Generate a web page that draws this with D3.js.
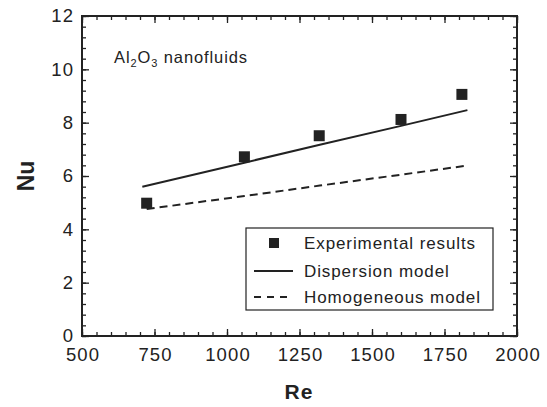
<!DOCTYPE html>
<html>
<head>
<meta charset="utf-8">
<script src="https://cdn.jsdelivr.net/npm/d3@7"></script>
<style>
  body { margin: 0; background: #fff; }
  text { font-family: "Liberation Sans", Arial, sans-serif; fill: #222; }
</style>
</head>
<body>
<svg width="547" height="407"></svg>
<script>
// data
let expRe = [723, 1060, 1318, 1600, 1810];
let expNu = [4.98, 6.72, 7.51, 8.12, 9.06];

let dispRe = [708, 1060, 1320, 1600, 1829];
let dispNu = [5.60, 6.50, 7.17, 7.88, 8.47];

let homoRe = [723, 1060, 1320, 1600, 1829];
let homoNu = [4.76, 5.25, 5.64, 6.05, 6.39];

let xTicks = [500, 750, 1000, 1250, 1500, 1750, 2000];
let yTicks = [0, 2, 4, 6, 8, 10, 12];

let svg = d3.select('svg');
let margin = {top: 16, right: 30, bottom: 71, left: 82},
width = +svg.attr('width') - margin.left - margin.right,
height = +svg.attr('height') - margin.top - margin.bottom;

let g = svg.append('g')
    .attr('transform', `translate(${margin.left}, ${margin.top})`);

let xScale = d3.scaleLinear().domain([500, 2000]).range([0, width]);
let yScale = d3.scaleLinear().domain([0, 12]).range([height, 0]);

let ink = '#222';

// minor / major ticks, all pointing inward
let xMinor = d3.range(500, 2001, 50);
let yMinor = d3.range(0, 12.01, 0.4);

function tickAxis(axis, scale, ticks, len, trans) {
  let a = g.append('g')
    .attr('transform', trans)
    .call(axis(scale).tickValues(ticks).tickSize(len).tickFormat(''));
  a.select('.domain').remove();
  a.selectAll('line').attr('stroke', ink).attr('stroke-width', 1.3);
  return a;
}
// bottom
tickAxis(d3.axisTop, xScale, xMinor, 4, `translate(0,${height})`);
tickAxis(d3.axisTop, xScale, xTicks, 7, `translate(0,${height})`);
// top
tickAxis(d3.axisBottom, xScale, xMinor, 4, 'translate(0,0)');
tickAxis(d3.axisBottom, xScale, xTicks, 7, 'translate(0,0)');
// left
tickAxis(d3.axisRight, yScale, yMinor, 4, 'translate(0,0)');
tickAxis(d3.axisRight, yScale, yTicks, 7, 'translate(0,0)');
// right
tickAxis(d3.axisLeft, yScale, yMinor, 4, `translate(${width},0)`);
tickAxis(d3.axisLeft, yScale, yTicks, 7, `translate(${width},0)`);

// tick labels
let xLab = g.append('g')
  .attr('transform', `translate(0,${height})`)
  .call(d3.axisBottom(xScale).tickValues(xTicks).tickSize(0).tickPadding(12).tickFormat(d3.format('d')));
xLab.select('.domain').remove();
xLab.selectAll('text').style('font-size', '18.5px').style('letter-spacing', '1.2px')
  .attr('dx', '0.6px').attr('fill', ink);

let yLab = g.append('g')
  .call(d3.axisLeft(yScale).tickValues(yTicks).tickSize(0).tickPadding(9).tickFormat(d3.format('d')));
yLab.select('.domain').remove();
yLab.selectAll('text').style('font-size', '18.5px').style('letter-spacing', '1.2px')
  .attr('dx', '1.2px').attr('fill', ink);

// frame
g.append('rect')
  .attr('width', width).attr('height', height)
  .attr('fill', 'none').attr('stroke', ink).attr('stroke-width', 2);

// lines
let line = d3.line()
  .x(d => xScale(d[0]))
  .y(d => yScale(d[1]));

g.append('path')
  .datum(d3.zip(homoRe, homoNu))
  .attr('d', line)
  .attr('fill', 'none').attr('stroke', ink).attr('stroke-width', 2)
  .attr('stroke-dasharray', '8,5');

g.append('path')
  .datum(d3.zip(dispRe, dispNu))
  .attr('d', line)
  .attr('fill', 'none').attr('stroke', ink).attr('stroke-width', 2);

// experimental squares
let sq = 11;
g.selectAll('rect.pt')
  .data(d3.zip(expRe, expNu))
  .enter().append('rect')
  .attr('class', 'pt')
  .attr('x', d => xScale(d[0]) - sq / 2)
  .attr('y', d => yScale(d[1]) - sq / 2)
  .attr('width', sq).attr('height', sq)
  .attr('fill', ink);

// annotation
let ann = svg.append('text')
  .attr('x', 114).attr('y', 63)
  .style('font-size', '16.5px').style('letter-spacing', '0.9px');
ann.append('tspan').text('Al');
ann.append('tspan').attr('dy', 4).style('font-size', '11px').text('2');
ann.append('tspan').attr('dy', -4).text('O');
ann.append('tspan').attr('dy', 4).style('font-size', '11px').text('3');
ann.append('tspan').attr('dy', -4).text(' nanofluids');

// legend
let leg = svg.append('g').attr('transform', 'translate(246,228)');
leg.append('rect')
  .attr('width', 247).attr('height', 82)
  .attr('fill', '#fff').attr('stroke', ink).attr('stroke-width', 1.2);

let legNames = ['Experimental results', 'Dispersion model', 'Homogeneous model'];
let legY = [15, 43, 69];
leg.append('rect')
  .attr('x', 28 - 5).attr('y', legY[0] - 5).attr('width', 10).attr('height', 10)
  .attr('fill', ink);
leg.append('line')
  .attr('x1', 8).attr('x2', 47).attr('y1', legY[1]).attr('y2', legY[1])
  .attr('stroke', ink).attr('stroke-width', 2);
leg.append('line')
  .attr('x1', 8).attr('x2', 47).attr('y1', legY[2]).attr('y2', legY[2])
  .attr('stroke', ink).attr('stroke-width', 2).attr('stroke-dasharray', '7,6');
leg.selectAll('text.lg')
  .data(legNames)
  .enter().append('text')
  .attr('class', 'lg')
  .attr('x', 58)
  .attr('y', (d, i) => legY[i] + 6)
  .style('font-size', '17px').style('letter-spacing', '0.9px')
  .text(d => d);

// axis titles
svg.append('text')
  .attr('transform', 'translate(34,176) rotate(-90)')
  .attr('text-anchor', 'middle')
  .style('font-size', '23px').style('font-weight', 'bold')
  .text('Nu');
svg.append('text')
  .attr('x', 299).attr('y', 399)
  .attr('text-anchor', 'middle')
  .style('font-size', '21px').style('font-weight', 'bold').style('letter-spacing', '1px')
  .text('Re');
</script>
</body>
</html>
